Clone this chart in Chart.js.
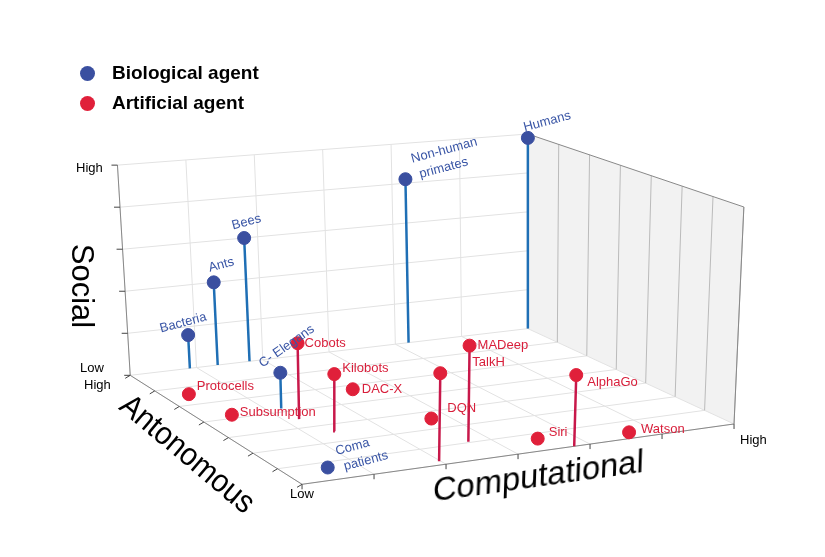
<!DOCTYPE html>
<html>
<head>
<meta charset="utf-8">
<script src="https://cdn.jsdelivr.net/npm/chart.js@4.4.0/dist/chart.umd.min.js"></script>
<style>
  body { margin: 0; background: #fff; font-family: "Liberation Sans", Arial, sans-serif; }
  #wrap { position: relative; width: 825px; height: 557px; }
  canvas { position: absolute; left: 0; top: 0; }
  .txt { position: absolute; color: #000; white-space: nowrap; }
  .legend { font-weight: bold; font-size: 19px; }
  .dot { position: absolute; width: 15px; height: 15px; border-radius: 50%; }
  .tick { font-size: 13px; }
  .axis { font-size: 31px; transform-origin: center center; }
</style>
</head>
<body>
<div id="wrap">
  <canvas id="c" width="825" height="557"></canvas>
  <div class="dot" style="left:80px;top:66px;background:#3a4fa0"></div>
  <div class="txt legend" style="left:112px;top:62px">Biological agent</div>
  <div class="dot" style="left:80px;top:96px;background:#e0203a"></div>
  <div class="txt legend" style="left:112px;top:92px">Artificial agent</div>
  <div class="txt tick" style="left:76px;top:160px">High</div>
  <div class="txt tick" style="left:80px;top:360px">Low</div>
  <div class="txt tick" style="left:84px;top:377px">High</div>
  <div class="txt tick" style="left:290px;top:486px">Low</div>
  <div class="txt tick" style="left:740px;top:432px">High</div>
  <div class="txt axis" style="left:40px;top:268px;transform:rotate(90deg)">Social</div>
  <div class="txt axis" style="left:98px;top:435px;font-size:32px;transform:rotate(40deg) scaleX(0.92)">Antonomous</div>
  <div class="txt axis" style="left:432px;top:457px;font-size:33px;transform:rotate(-8deg) skewX(-10deg)">Computational</div>
</div>
<script>
// agents: computational (0-1), autonomous (0-1), social (0-1)
const names = ['Humans', 'Non-human\nprimates', 'Bees', 'Ants', 'Bacteria', 'C- Elegans', 'Coma\npatients',
  'Protocells', 'Subsumption', 'Cobots', 'Kilobots', 'DAC-X', 'MADeep', 'TalkH', 'DQN', 'AlphaGo', 'Siri', 'Watson'];
const kinds = ['bio', 'bio', 'bio', 'bio', 'bio', 'bio', 'bio',
  'art', 'art', 'art', 'art', 'art', 'art', 'art', 'art', 'art', 'art', 'art'];
const computational = [1.0, 0.7, 0.3, 0.22, 0.15, 0.2, 0.1, 0.06, 0.08, 0.2, 0.23, 0.41, 0.45, 0.33, 0.46, 0.63, 0.59, 0.78];
const autonomous = [1.0, 1.0, 1.0, 1.0, 1.0, 0.6, 0.1, 0.8, 0.6, 0.5, 0.37, 0.68, 0.15, 0.03, 0.37, 0.0, 0.1, 0.05];
const social = [0.98, 0.82, 0.6, 0.4, 0.16, 0.17, 0, 0, 0, 0.36, 0.27, 0, 0.45, 0.41, 0, 0.33, 0, 0];
const socialTicks = 5, compTicks = 6, autoTicks = 7;

// label placement (style only)
const labelStyle = [
  { dx: -4, dy: -10, rot: -15 }, { dx: 6, dy: -20, rot: -15 }, { dx: -12, dy: -12, rot: -15 },
  { dx: -5, dy: -14, rot: -15 }, { dx: -28, dy: -6, rot: -15 }, { dx: -20, dy: -8, rot: -35 },
  { dx: 8, dy: -16, rot: -15 },
  { dx: 8, dy: -8, rot: 0 }, { dx: 8, dy: -2, rot: 0 }, { dx: 7, dy: 0, rot: 0 },
  { dx: 8, dy: -6, rot: 0 }, { dx: 9, dy: 0, rot: 0 }, { dx: 8, dy: 0, rot: 0 },
  { dx: 32, dy: -11, rot: 0 }, { dx: 16, dy: -10, rot: 0 }, { dx: 11, dy: 7, rot: 0 },
  { dx: 11, dy: -6, rot: 0 }, { dx: 12, dy: -3, rot: 0 }
];

// box projection
const F = { p00: [300, 490], p10: [740, 428], p01: [125, 378], p11: [530, 330] };
const T = { p00: [300, 270], p10: [750, 205], p01: [112, 162], p11: [530, 130] };
function bil(Q, c, a, k) {
  return (1 - c) * (1 - a) * Q.p00[k] + c * (1 - a) * Q.p10[k] + (1 - c) * a * Q.p01[k] + c * a * Q.p11[k];
}
function proj(c, a, s) {
  const fx = bil(F, c, a, 0), fy = bil(F, c, a, 1);
  return { x: fx + s * (bil(T, c, a, 0) - fx), y: fy + s * (bil(T, c, a, 1) - fy) };
}

const bioPts = [], artPts = [], bioStems = [], artStems = [];
names.forEach((n, i) => {
  const p = proj(computational[i], autonomous[i], social[i]);
  const f = proj(computational[i], autonomous[i], 0);
  (kinds[i] === 'bio' ? bioPts : artPts).push({ x: p.x, y: p.y, i });
  if (social[i] > 0) (kinds[i] === 'bio' ? bioStems : artStems).push(f, p, { x: NaN, y: NaN });
});

const gridPlugin = {
  id: 'grid3d',
  beforeDatasetsDraw(chart) {
    const ctx = chart.ctx, sx = chart.scales.x, sy = chart.scales.y;
    const P = (c, a, s) => { const q = proj(c, a, s); return [sx.getPixelForValue(q.x), sy.getPixelForValue(q.y)]; };
    const poly = (pts, fill) => { ctx.beginPath(); pts.forEach((p, k) => k ? ctx.lineTo(p[0], p[1]) : ctx.moveTo(p[0], p[1])); ctx.closePath(); ctx.fillStyle = fill; ctx.fill(); };
    const seg = (a, b, col, w) => { ctx.beginPath(); ctx.moveTo(a[0], a[1]); ctx.lineTo(b[0], b[1]); ctx.strokeStyle = col; ctx.lineWidth = w; ctx.stroke(); };
    ctx.save();
    poly([P(1, 0, 0), P(1, 1, 0), P(1, 1, 1), P(1, 0, 1)], '#f2f2f2');
    const g = '#e2e2e2';
    for (let k = 0; k <= compTicks; k++) { const c = k / compTicks;
      seg(P(c, 0, 0), P(c, 1, 0), g, 1); seg(P(c, 1, 0), P(c, 1, 1), g, 1); }
    for (let k = 0; k <= autoTicks; k++) { const a = k / autoTicks;
      seg(P(0, a, 0), P(1, a, 0), g, 1); seg(P(1, a, 0), P(1, a, 1), '#bbb', 1); }
    for (let k = 1; k <= socialTicks; k++) { const s = k / socialTicks;
      seg(P(0, 1, s), P(1, 1, s), g, 1); }
    const e = '#888';
    seg(P(0, 0, 0), P(1, 0, 0), e, 1); seg(P(0, 0, 0), P(0, 1, 0), e, 1);
    seg(P(0, 1, 0), P(0, 1, 1), e, 1); seg(P(1, 0, 0), P(1, 0, 1), e, 1);
    seg(P(1, 0, 1), P(1, 1, 1), e, 1); seg(P(1, 1, 0), P(1, 1, 1), '#bbb', 1);
    for (let k = 0; k <= socialTicks; k++) { const p = P(0, 1, k / socialTicks); seg(p, [p[0] - 6, p[1]], '#444', 1); }
    for (let k = 0; k <= autoTicks; k++) { const p = P(0, k / autoTicks, 0); seg(p, [p[0] - 5, p[1] + 3], '#444', 1); }
    for (let k = 0; k <= compTicks; k++) { const p = P(k / compTicks, 0, 0); seg(p, [p[0], p[1] + 5], '#444', 1); }
    ctx.restore();
  },
  afterDatasetsDraw(chart) {
    const ctx = chart.ctx;
    ctx.save();
    [0, 1].forEach(d => {
      chart.getDatasetMeta(d).data.forEach((el, j) => {
        const i = chart.data.datasets[d].data[j].i, st = labelStyle[i];
        ctx.save();
        ctx.translate(el.x + st.dx, el.y + st.dy);
        ctx.rotate(st.rot * Math.PI / 180);
        ctx.font = '13px "Liberation Sans", Arial, sans-serif';
        ctx.fillStyle = kinds[i] === 'bio' ? '#3a56a6' : '#d81e3a';
        ctx.textBaseline = 'middle';
        names[i].split('\n').forEach((line, r) => ctx.fillText(line, r * 4, r * 17));
        ctx.restore();
      });
    });
    ctx.restore();
  }
};

new Chart(document.getElementById('c'), {
  type: 'scatter',
  data: {
    datasets: [
      { data: bioPts, backgroundColor: '#3a4fa0', borderColor: '#3a4fa0', pointRadius: 6.5, order: 0 },
      { data: artPts, backgroundColor: '#e0203a', borderColor: '#e0203a', pointRadius: 6.5, order: 0 },
      { type: 'line', data: bioStems, borderColor: '#1f6fb5', borderWidth: 2.5, pointRadius: 0, spanGaps: false, order: 1 },
      { type: 'line', data: artStems, borderColor: '#c8184a', borderWidth: 2.5, pointRadius: 0, spanGaps: false, order: 1 }
    ]
  },
  options: {
    responsive: false, animation: false,
    layout: { padding: 0 },
    plugins: { legend: { display: false }, tooltip: { enabled: false } },
    scales: {
      x: { type: 'linear', min: 0, max: 825, display: false },
      y: { type: 'linear', min: 0, max: 557, reverse: true, display: false }
    }
  },
  plugins: [gridPlugin]
});
</script>
</body>
</html>
